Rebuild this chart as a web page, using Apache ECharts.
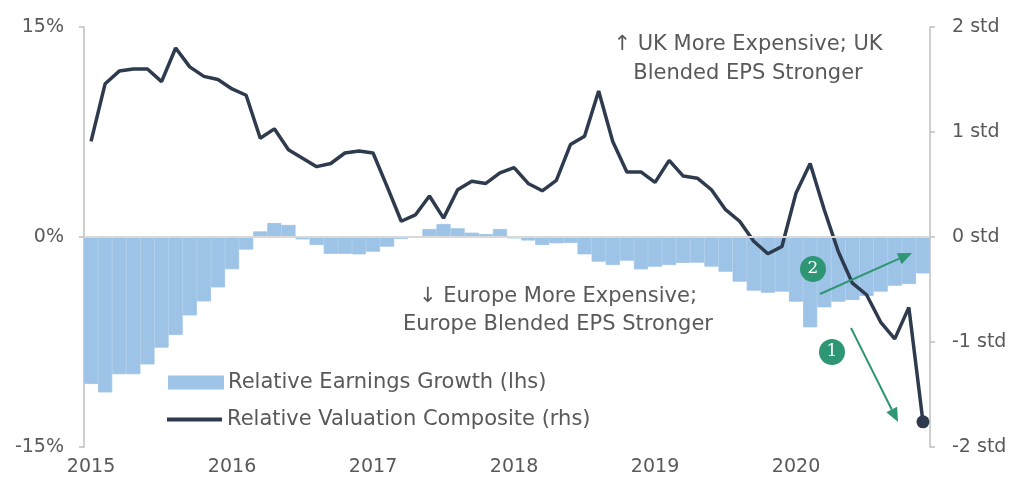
<!DOCTYPE html>
<html>
<head>
<meta charset="utf-8">
<script src="https://cdn.jsdelivr.net/npm/echarts@6/dist/echarts.min.js"></script>
<style>
  html, body { margin: 0; padding: 0; background: #fff; }
  #chart { width: 1013px; height: 487px; }
</style>
</head>
<body>
<div id="chart"></div>
<script>
// year labels on the x axis, 10 periods per year in the source chart
const yearLabels = ["2015", "2016", "2017", "2018", "2019", "2020"];
const periodsPerYear = 10;

// relative earnings growth, % (lhs)
const earningsGrowth = [
  -10.5, -11.1, -9.8, -9.8, -9.1, -7.9, -7.0, -5.6, -4.6, -3.6,
  -2.3, -0.9, 0.4, 1.0, 0.86, -0.17, -0.57, -1.2, -1.2, -1.24,
  -1.05, -0.69, -0.14, -0.05, 0.57, 0.93, 0.62, 0.31, 0.21, 0.57,
  -0.1, -0.25, -0.57, -0.45, -0.43, -1.24, -1.76, -2.0, -1.69, -2.31,
  -2.12, -2.0, -1.85, -1.83, -2.12, -2.48, -3.19, -3.83, -3.98, -3.9,
  -4.62, -6.45, -5.02, -4.62, -4.5, -4.21, -3.9, -3.48, -3.36, -2.6
];

// relative valuation composite, std (rhs)
const valuation = [
  0.91, 1.46, 1.58, 1.60, 1.60, 1.48, 1.80, 1.62, 1.53, 1.50,
  1.41, 1.35, 0.94, 1.03, 0.83, 0.75, 0.67, 0.70, 0.80, 0.82,
  0.80, 0.48, 0.15, 0.21, 0.39, 0.18, 0.45, 0.53, 0.51, 0.61,
  0.66, 0.51, 0.44, 0.54, 0.88, 0.96, 1.39, 0.91, 0.62, 0.62,
  0.52, 0.73, 0.58, 0.56, 0.45, 0.26, 0.15, -0.04, -0.16, -0.09,
  0.42, 0.70, 0.26, -0.14, -0.44, -0.55, -0.81, -0.97, -0.67, -1.76
];

const categories = [];
yearLabels.forEach(y => {
  for (let k = 1; k <= periodsPerYear; k++) categories.push(y + "-" + k);
});

const textColor = "#595959";
const axisGrey = "#bfbfbf";
const fontFamily = "DejaVu Sans";
const barBlue = "#9dc3e6";
const navy = "#2e3a4d";
const green = "#2f9675";
const lastIdx = valuation.length - 1;
const noteFont = "21px 'DejaVu Sans'";

function arrow(x1, y1, x2, y2) {
  const a = Math.atan2(y2 - y1, x2 - x1);
  const len = 14, half = 6;
  const bx = x2 - len * Math.cos(a), by = y2 - len * Math.sin(a);
  const px = -Math.sin(a) * half, py = Math.cos(a) * half;
  return [
    { type: "line", z: 100, shape: { x1, y1, x2: bx, y2: by }, style: { stroke: green, lineWidth: 2 } },
    { type: "polygon", z: 100, shape: { points: [[x2, y2], [bx + px, by + py], [bx - px, by - py]] }, style: { fill: green } }
  ];
}

function badge(cx, cy, label) {
  return [
    { type: "circle", z: 100, shape: { cx, cy, r: 13 }, style: { fill: green } },
    { type: "text", z: 101, x: cx, y: cy, style: { text: label, fill: "#fff", font: "17px 'DejaVu Serif'", align: "center", verticalAlign: "middle" } }
  ];
}

function note(x, y, text) {
  return { type: "text", z: 100, x, y, style: { text, fill: textColor, font: noteFont, align: "center", verticalAlign: "middle" } };
}

const chart = echarts.init(document.getElementById("chart"));

chart.setOption({
  animation: false,
  textStyle: { fontFamily },
  grid: { left: 84, right: 83, top: 27, bottom: 40 },
  legend: [
    {
      data: [{ name: "Relative Earnings Growth (lhs)", icon: "rect" }],
      left: 168, top: 372, padding: 0, itemWidth: 54, itemHeight: 12,
      textStyle: { color: textColor, fontSize: 21, fontFamily }
    },
    {
      data: [{ name: "Relative Valuation Composite (rhs)", icon: "rect", itemStyle: { color: navy } }],
      left: 167, top: 409, padding: 0, itemWidth: 55, itemHeight: 4,
      textStyle: { color: textColor, fontSize: 21, fontFamily }
    }
  ],
  xAxis: {
    type: "category",
    data: categories,
    axisLine: { show: false, onZero: false },
    axisTick: { show: false },
    axisLabel: {
      color: textColor,
      fontSize: 19,
      margin: 11,
      interval: (i) => i % periodsPerYear === 0,
      formatter: (v) => v.split("-")[0]
    }
  },
  yAxis: [
    {
      type: "value",
      min: -15, max: 15, interval: 15,
      axisLine: { show: true, lineStyle: { color: axisGrey, width: 1.5 } },
      axisTick: { show: true, length: 5, lineStyle: { color: axisGrey, width: 1.5 } },
      splitLine: { show: false },
      axisLabel: { color: textColor, fontSize: 19, margin: 20, formatter: "{value}%" }
    },
    {
      type: "value",
      min: -2, max: 2, interval: 1,
      axisLine: { show: true, lineStyle: { color: axisGrey, width: 1.5 } },
      axisTick: { show: true, length: 5, lineStyle: { color: axisGrey, width: 1.5 } },
      splitLine: { show: false },
      axisLabel: { color: textColor, fontSize: 19, margin: 22, formatter: "{value} std" }
    }
  ],
  series: [
    {
      name: "Relative Earnings Growth (lhs)",
      type: "bar",
      yAxisIndex: 0,
      data: earningsGrowth,
      barCategoryGap: "0%",
      itemStyle: { color: barBlue, borderColor: barBlue, borderWidth: 0.8 },
      markLine: {
        silent: true,
        symbol: "none",
        label: { show: false },
        lineStyle: { color: "#d9d9d9", width: 2, type: "solid" },
        data: [{ yAxis: 0 }]
      }
    },
    {
      name: "Relative Valuation Composite (rhs)",
      type: "line",
      yAxisIndex: 1,
      data: valuation,
      symbol: "none",
      lineStyle: { color: navy, width: 3.5 },
      itemStyle: { color: navy },
      z: 3
    },
    {
      type: "scatter",
      yAxisIndex: 1,
      data: [[lastIdx, valuation[lastIdx]]],
      symbolSize: 13,
      itemStyle: { color: navy, opacity: 1 },
      z: 4
    }
  ],
  graphic: [
    note(748, 45, "\u2191 UK More Expensive; UK"),
    note(748, 74, "Blended EPS Stronger"),
    note(558, 297, "\u2193 Europe More Expensive;"),
    note(558, 325, "Europe Blended EPS Stronger"),
    ...arrow(820, 294, 912, 253),
    ...arrow(851, 328, 898, 422),
    ...badge(813, 269, "2"),
    ...badge(832, 352, "1")
  ]
});
</script>
</body>
</html>
